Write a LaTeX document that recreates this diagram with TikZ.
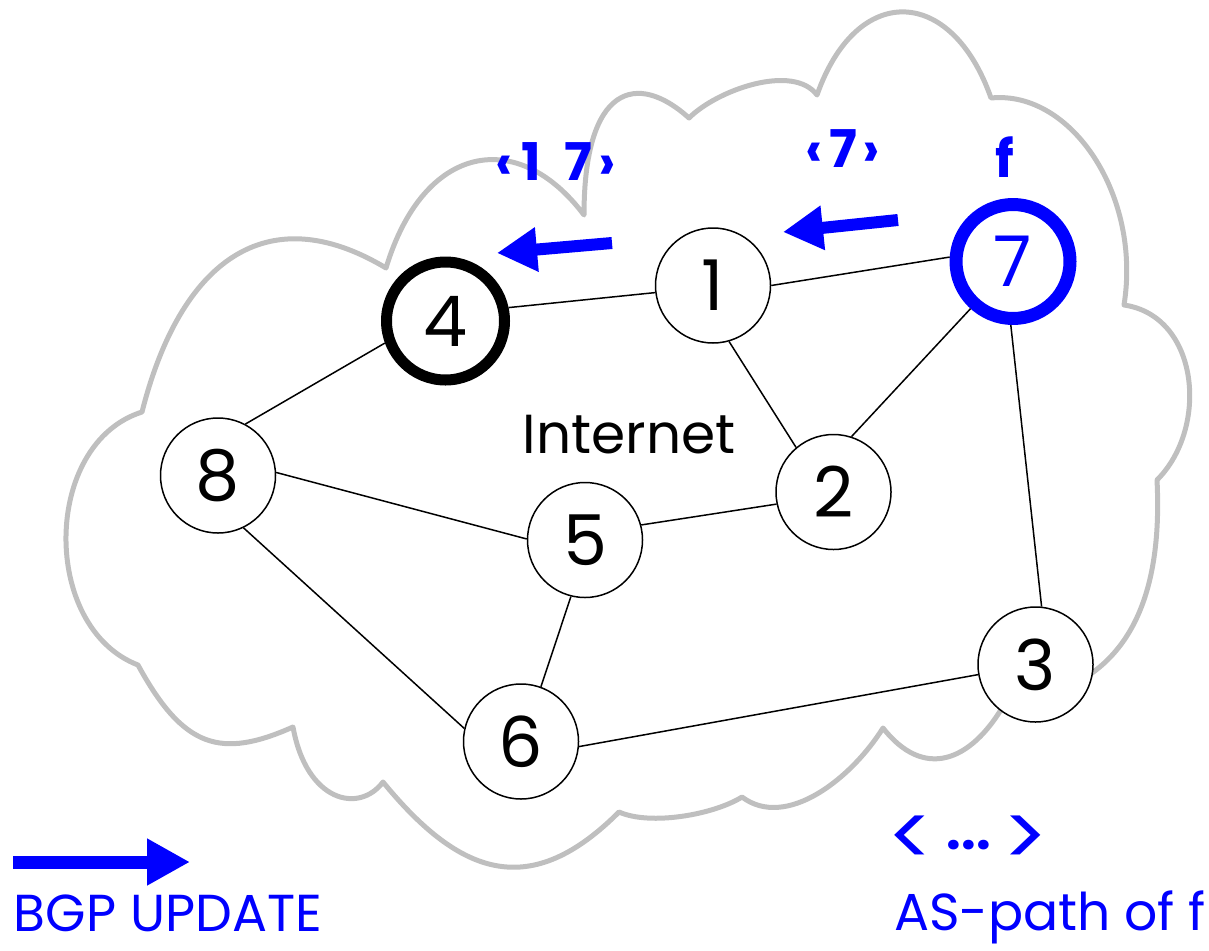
\documentclass[tikz,border=0pt]{standalone}
\usepackage{fontspec}
\setmainfont{Poppins}
\usepackage{tikz}
\usetikzlibrary{arrows.meta}

\begin{document}
\begin{tikzpicture}[x=1pt,y=-1pt,line join=round,
    as/.style={circle,draw,fill=white,line width=1.5pt,minimum size=115pt,inner sep=0pt,font=\fontsize{70}{80}\selectfont},
    cloudline/.style={draw=black!25,line width=5pt},
    update/.style={blue,line width=12pt,-{Triangle[length=40pt,width=42pt]}},
    path/.style={blue,inner sep=0pt,font=\fontsize{52}{60}\selectfont\bfseries},
    legend/.style={blue,inner sep=0pt,font=\fontsize{52}{60}\selectfont}]
  \useasboundingbox (0,0) rectangle (1209,950);
  % the cloud, one lobe after the other
  \draw[cloudline] (142,412) .. controls (180,262) and (266,196) .. (386,268)
    .. controls (423.7,143.2) and (518,127) .. (584,215)
    .. controls (584,85) and (637,71) .. (689,118)
    .. controls (717,90) and (793,63) .. (817,95)
    .. controls (856.6,-17.8) and (951.4,-14.8) .. (991,98)
    .. controls (1071,90) and (1141.6,195) .. (1124,305)
    .. controls (1199,316) and (1209.5,427.5) .. (1157,480)
    .. controls (1164.5,630) and (1105,693) .. (1005,703)
    .. controls (970,764) and (923,779) .. (883,728)
    .. controls (851,779) and (786,830) .. (742,797)
    .. controls (714,814.5) and (650.5,826) .. (619,812)
    .. controls (531.5,899.5) and (461.75,878.25) .. (383,782)
    .. controls (359,814) and (306.5,802) .. (293,727)
    .. controls (221,759) and (183.6,748.6) .. (138,665)
    .. controls (40.4,627.2) and (42.25,443.5) .. (142,412) -- cycle;

  \node[as] (as_1) at (713,285.5) {1};
  \node[as] (as_2) at (833.5,492) {2};
  \node[as] (as_3) at (1035.5,664.5) {3};
  \node[as,minimum size=118pt,line width=11pt] (as_4) at (445.5,321) {4};
  \node[as] (as_5) at (585,540) {5};
  \node[as] (as_6) at (521,741.5) {6};
  \node[as,draw=blue,text=blue,minimum size=114pt,line width=13pt] (as_7) at (1013,261.5) {7};
  \node[as] (as_8) at (218,475.5) {8};

  \draw[line width=1.5pt] (as_4.12)   -- (as_1.187);
  \draw[line width=1.5pt] (as_1.0)    -- (as_7.176);
  \draw[line width=1.5pt] (as_1.-74)  -- (as_2.130);
  \draw[line width=1.5pt] (as_7.228)  -- (as_2.72);
  \draw[line width=1.5pt] (as_7.-92)  -- (as_3.84);
  \draw[line width=1.5pt] (as_4.200)  -- (as_8.62);
  \draw[line width=1.5pt] (as_8.3)    -- (as_5.179);
  \draw[line width=1.5pt] (as_8.-64)  -- (as_6.167);
  \draw[line width=1.5pt] (as_5.-104) -- (as_6.70);
  \draw[line width=1.5pt] (as_5.15)   -- (as_2.192);
  \draw[line width=1.5pt] (as_6.-5)   -- (as_3.190);

  \node[inner sep=0pt,font=\fontsize{55}{60}\selectfont,anchor=base] (inet) at (629,453) {Internet};

  % updates travelling from 7 towards 4
  \coordinate (u1_s) at (612,243);
  \coordinate (u1_e) at (497,253);
  \coordinate (u2_s) at (898,220);
  \coordinate (u2_e) at (783,232);
  \draw[update] (u2_s) -- (u2_e);
  \draw[update] (u1_s) -- (u1_e);
  \node[path,anchor=base] (p_17) at (556,180) {‹\hspace{8pt}1\hspace{24pt}7\hspace{6pt}›};
  \node[path,anchor=base] (p_7)  at (843,167) {‹\hspace{6pt}7\hspace{6pt}›};
  \node[path,anchor=base] (p_f)  at (1005,177) {f};

  % legend
  \coordinate (l_s) at (13,862);
  \coordinate (l_e) at (190,862);
  \draw[update,line width=13pt,-{Triangle[length=43pt,width=44pt]}] (l_s) -- (l_e);
  \node[legend,anchor=base] (l_bgp) at (168,931) {BGP UPDATE};
  \node[path,anchor=base] (l_dots) at (968,866) {{\mdseries\fontsize{85}{90}\selectfont<}\hspace{12pt}\raisebox{17pt}{...}\hspace{12pt}{\mdseries\fontsize{85}{90}\selectfont>}};
  \node[legend,anchor=base] (l_as) at (1050,930) {AS-path of f};
\end{tikzpicture}
\end{document}
